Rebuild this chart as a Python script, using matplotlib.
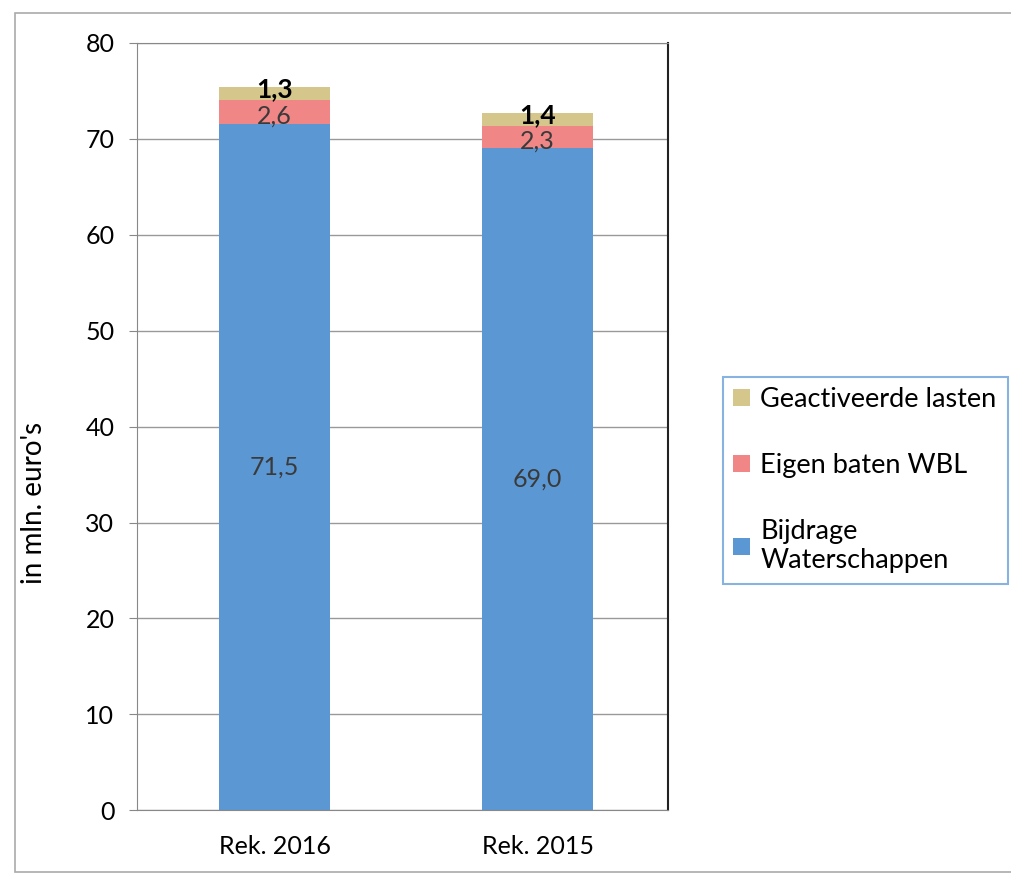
import matplotlib
matplotlib.use('Agg')
import matplotlib.pyplot as plt
from matplotlib.patches import Rectangle

plt.rcParams['font.family'] = ['Lato', 'DejaVu Sans']

categories = ['Rek. 2016', 'Rek. 2015']
bijdrage = [71.5, 69.0]
eigen_baten = [2.6, 2.3]
geactiveerd = [1.3, 1.4]
series_names = ['Bijdrage\nWaterschappen', 'Eigen baten WBL', 'Geactiveerde lasten']
colors = ['#5b97d3', '#f08686', '#d5c78c']

fig = plt.figure(figsize=(10.12, 8.76), dpi=100)
ax = fig.add_axes([0.135, 0.075, 0.525, 0.876])

x = list(range(len(categories)))
w = 0.42
b1 = ax.bar(x, bijdrage, width=w, color=colors[0], label=series_names[0], zorder=2)
b2 = ax.bar(x, eigen_baten, width=w, bottom=bijdrage, color=colors[1],
            label=series_names[1], zorder=2)
bottom3 = [a + b for a, b in zip(bijdrage, eigen_baten)]
b3 = ax.bar(x, geactiveerd, width=w, bottom=bottom3, color=colors[2],
            label=series_names[2], zorder=2)

ax.bar_label(b1, labels=[f'{v:.1f}'.replace('.', ',') for v in bijdrage],
             label_type='center', fontsize=18, color='#3a3a3a')
ax.bar_label(b2, labels=[f'{v:.1f}'.replace('.', ',') for v in eigen_baten],
             label_type='center', fontsize=18, color='#3a3a3a', padding=-3)
ax.bar_label(b3, labels=[f'{v:.1f}'.replace('.', ',') for v in geactiveerd],
             label_type='center', fontsize=19, color='black', fontweight='bold',
             padding=3)

ax.set_xlim(-0.525, 1.495)
ax.set_ylim(0, 80)
ax.set_yticks(range(0, 81, 10))
ax.set_xticks(x)
ax.set_xticklabels(categories, fontsize=18)
ax.tick_params(axis='y', labelsize=18, length=6, color='#888888', pad=10)
ax.tick_params(axis='x', length=0, pad=18)
ax.grid(axis='y', color='#999999', linewidth=1, zorder=0)
for side in ['left', 'bottom', 'top']:
    ax.spines[side].set_color('#888888')
ax.spines['right'].set_color('#222222')
ax.spines['right'].set_linewidth(1.5)
ax.set_ylabel("in mln. euro's", fontsize=20)
ax.yaxis.set_label_coords(-0.168, 0.40)

handles, labels = ax.get_legend_handles_labels()
leg = fig.legend(handles[::-1], labels[::-1], loc='center left',
                 bbox_to_anchor=(0.714, 0.452), fontsize=19.5, frameon=True,
                 fancybox=False, edgecolor='#6a9fd8', handlelength=0.6,
                 handleheight=0.6, handletextpad=0.4, labelspacing=1.5,
                 borderpad=0.4, borderaxespad=0)
leg.get_frame().set_linewidth(1.5)

fig.patches.append(Rectangle((0.015, 0.005), 0.985, 0.98, transform=fig.transFigure,
                             fill=False, edgecolor='#aaaaaa', linewidth=1.2))

fig.savefig('out.png', dpi=100)
